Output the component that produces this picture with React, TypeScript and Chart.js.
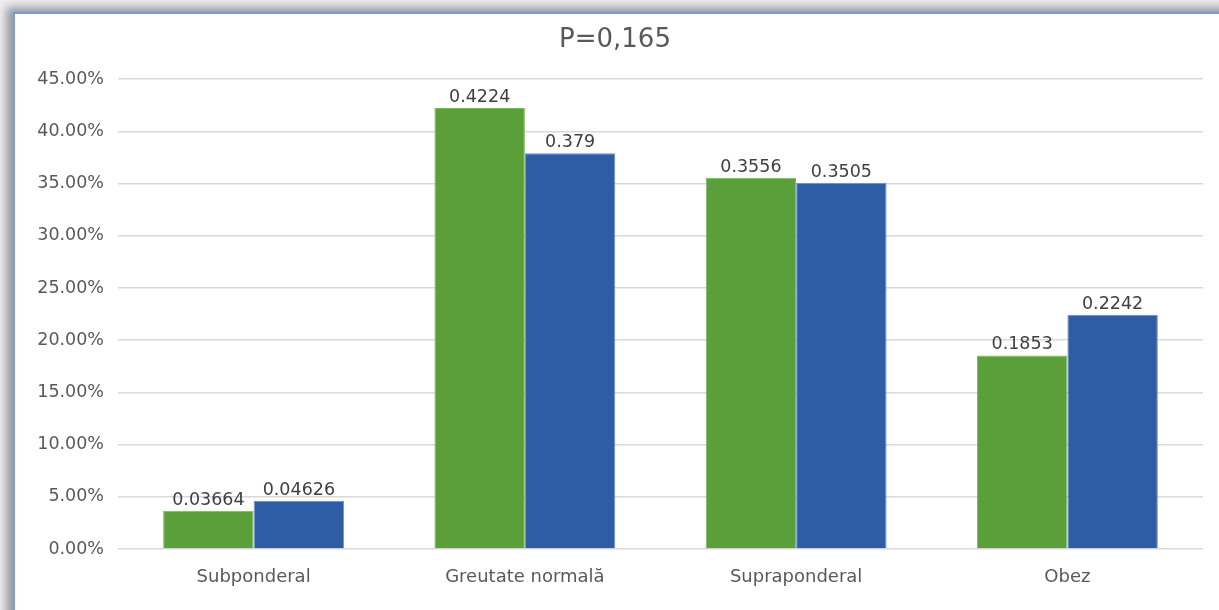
import React, { useEffect, useRef } from "react";
import { Chart, registerables } from "chart.js";

Chart.register(...registerables);

const categories = ["Subponderal", "Greutate normală", "Supraponderal", "Obez"];
const seriesGreen = [0.03664, 0.4224, 0.3556, 0.1853];
const seriesBlue = [0.04626, 0.379, 0.3505, 0.2242];
const yTicksMax = 0.45;
const yTickStep = 0.05;
const titleText = "P=0,165";

const FONT = "'DejaVu Sans', sans-serif";
const TEXT = "#595959";

const valueLabels = {
  id: "valueLabels",
  afterDatasetsDraw(chart: any) {
    const ctx = chart.ctx;
    ctx.save();
    ctx.font = `17.5px ${FONT}`;
    ctx.fillStyle = "#404040";
    ctx.textAlign = "center";
    ctx.textBaseline = "bottom";
    chart.data.datasets.forEach((ds: any, di: number) => {
      const meta = chart.getDatasetMeta(di);
      meta.data.forEach((bar: any, i: number) => {
        ctx.fillText(String(ds.data[i]), bar.x, bar.y - 2);
      });
    });
    ctx.restore();
  },
};

export default function App() {
  const ref = useRef<HTMLCanvasElement | null>(null);
  useEffect(() => {
    if (!ref.current) return;
    const chart = new Chart(ref.current, {
      type: "bar",
      data: {
        labels: categories,
        datasets: [
          {
            label: "A",
            data: seriesGreen,
            backgroundColor: "#5B9F3B",
            borderColor: "#7DB85E",
            borderWidth: 1,
            categoryPercentage: 0.667,
            barPercentage: 1.0,
          },
          {
            label: "B",
            data: seriesBlue,
            backgroundColor: "#2F5DA5",
            borderColor: "#6F93D2",
            borderWidth: 1,
            categoryPercentage: 0.667,
            barPercentage: 1.0,
          },
        ],
      },
      options: {
        animation: false,
        responsive: false,
        maintainAspectRatio: false,
        layout: { padding: { top: 0, left: 27, right: 16, bottom: 0 } },
        plugins: {
          legend: { display: false },
          tooltip: { enabled: false },
          title: {
            display: true,
            text: titleText,
            color: TEXT,
            font: { family: FONT, size: 26, weight: "normal" },
            padding: { top: 25, bottom: 23 },
          },
        },
        scales: {
          x: {
            grid: { display: false, drawTicks: false },
            border: { display: false },
            ticks: {
              color: TEXT,
              padding: 18,
              font: { family: FONT, size: 18 },
              maxRotation: 0,
            },
            afterFit(scale: any) {
              scale.height = 61;
            },
          },
          y: {
            min: 0,
            max: yTicksMax,
            grid: { color: "#D9D9D9", lineWidth: 1.5, drawTicks: false },
            border: { display: false },
            ticks: {
              stepSize: yTickStep,
              color: TEXT,
              padding: 14,
              font: { family: FONT, size: 17.5 },
              callback: (v: any) => (Number(v) * 100).toFixed(2) + "%",
            },
            afterFit(scale: any) {
              scale.width = 91;
            },
          },
        },
      },
      plugins: [valueLabels],
    });
    return () => chart.destroy();
  }, []);

  return (
    <div
      style={{
        position: "fixed",
        left: 0,
        top: 0,
        width: 1219,
        height: 610,
        overflow: "hidden",
        background: "#f0f0f3",
      }}
    >
      <div
        style={{
          position: "absolute",
          left: 13,
          top: 12,
          width: 1400,
          height: 800,
          background: "#ffffff",
          borderTop: "2px solid #7E9DD6",
          borderLeft: "2px solid #7E9DD6",
          boxShadow: "-7px -5px 9px rgba(80,80,100,0.55)",
        }}
      />
      <canvas
        ref={ref}
        width={1219}
        height={610}
        style={{ position: "absolute", left: 0, top: 0, width: 1219, height: 610 }}
      />
    </div>
  );
}
